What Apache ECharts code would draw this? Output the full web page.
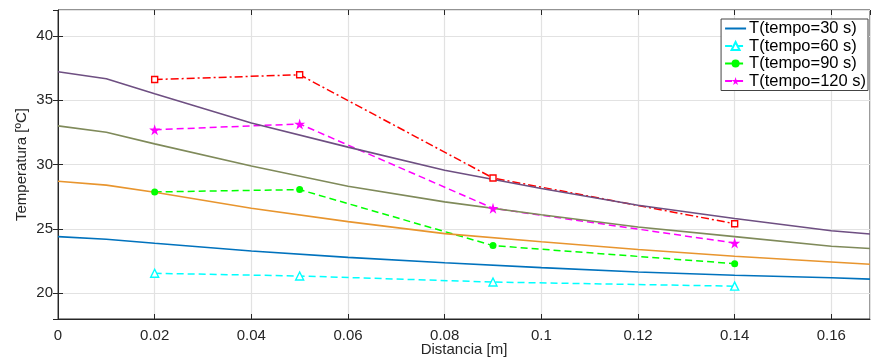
<!DOCTYPE html>
<html>
<head>
<meta charset="utf-8">
<script src="https://cdn.jsdelivr.net/npm/echarts@6/dist/echarts.min.js"></script>
<style>
  html, body { margin: 0; padding: 0; background: #fff; }
  #chart { width: 871px; height: 361px; }
</style>
</head>
<body>
<div id="chart"></div>
<script>
// distance along the bar [m] for the continuous curves
const distCurve = [0, 0.01, 0.02, 0.04, 0.06, 0.08, 0.1, 0.12, 0.14, 0.16, 0.168];
const curveBlue = [24.4, 24.2, 23.88, 23.28, 22.79, 22.37, 21.99, 21.65, 21.4, 21.2, 21.1];
const curveOrange = [28.7, 28.4, 27.85, 26.6, 25.56, 24.63, 24.0, 23.4, 22.87, 22.43, 22.25];
const curveOlive = [33.0, 32.5, 31.6, 29.89, 28.31, 27.1, 26.1, 25.15, 24.4, 23.65, 23.47];
const curvePurple = [37.2, 36.66, 35.5, 33.23, 31.35, 29.56, 28.13, 26.84, 25.8, 24.86, 24.6];

// measured points (sensors)
const distSensor = [0.02, 0.05, 0.09, 0.14];
const temp60 = [21.55, 21.34, 20.87, 20.55];
const temp90 = [27.87, 28.05, 23.7, 22.3];
const temp120 = [32.7, 33.15, 26.6, 23.9];
const tempRed = [36.6, 36.97, 28.95, 25.4];

const legendNames = ['T(tempo=30 s)', 'T(tempo=60 s)', 'T(tempo=90 s)', 'T(tempo=120 s)'];

const starPath = 'path://M50,0 L61,35 L98,35 L68,57 L79,91 L50,70 L21,91 L32,57 L2,35 L39,35 Z';
const axisColor = '#262626';
const fontFam = 'Liberation Sans, Arial, sans-serif';

const pair = (xs, ys) => xs.map((x, i) => [x, ys[i]]);

const solid = (name, color, ys) => ({
  name: name,
  type: 'line',
  symbol: 'none',
  lineStyle: { width: 1.6, color: color },
  itemStyle: { color: color },
  data: pair(distCurve, ys),
});

const dashed = (name, color, ys, symbol, size, filled, dash) => ({
  name: name,
  type: 'line',
  symbol: symbol,
  symbolSize: size,
  showSymbol: true,
  lineStyle: { width: 1.5, color: color, type: dash || [7, 4] },
  itemStyle: filled
    ? { color: color }
    : { color: '#fff', borderColor: color, borderWidth: 1.4 },
  data: pair(distSensor, ys),
});

const chart = echarts.init(document.getElementById('chart'));
const option = {
  animation: false,
  textStyle: { fontFamily: fontFam },
  grid: {
    left: 58, right: 1, top: 10, bottom: 42,
    outerBoundsMode: 'none',
    show: true, borderColor: axisColor, borderWidth: 1,
  },
  legend: {
    data: [
      { name: legendNames[0], itemStyle: { opacity: 0 } },
      legendNames[1], legendNames[2], legendNames[3],
    ],
    orient: 'vertical',
    right: 3,
    top: 19,
    backgroundColor: '#fff',
    borderColor: '#444',
    borderWidth: 1,
    padding: [1, 2, 1, 3],
    itemGap: 0.5,
    itemWidth: 21,
    itemHeight: 10,
    textStyle: { fontSize: 16.5, lineHeight: 17, color: '#000', fontFamily: fontFam, padding: [0, 0, 0, -2] },
  },
  xAxis: [
    {
      type: 'value',
      min: 0,
      max: 0.168,
      interval: 0.02,
      name: 'Distancia [m]',
      nameLocation: 'middle',
      nameGap: 23,
      nameMoveOverlap: false,
      nameTextStyle: { fontSize: 15, color: axisColor },
      axisLine: { lineStyle: { color: axisColor } },
      axisTick: { inside: true, length: 5, lineStyle: { color: axisColor } },
      axisLabel: {
        fontSize: 15, color: axisColor, margin: 9, showMaxLabel: false,
        formatter: v => String(+v.toFixed(2)),
      },
      splitLine: { show: true, lineStyle: { color: '#e2e2e2', width: 1.2 } },
    },
    {
      type: 'value',
      position: 'top',
      min: 0,
      max: 0.168,
      interval: 0.02,
      axisLine: { show: false },
      axisTick: { inside: true, length: 5, lineStyle: { color: axisColor } },
      axisLabel: { show: false },
      splitLine: { show: false },
    },
  ],
  yAxis: [
    {
      type: 'value',
      min: 18,
      max: 42,
      splitNumber: 5,
      name: 'Temperatura [ºC]',
      nameLocation: 'middle',
      nameGap: 29,
      nameMoveOverlap: false,
      nameTextStyle: { fontSize: 15, color: axisColor },
      axisLine: { show: true, lineStyle: { color: axisColor } },
      axisTick: { show: true, inside: true, length: 5, lineStyle: { color: axisColor } },
      axisLabel: {
        fontSize: 15, color: axisColor, margin: 5,
        showMinLabel: false, showMaxLabel: false,
      },
      splitLine: { show: true, lineStyle: { color: '#e2e2e2', width: 1.2 } },
    },
    {
      type: 'value',
      position: 'right',
      min: 18,
      max: 42,
      splitNumber: 5,
      axisLine: { show: false },
      axisTick: { show: true, inside: true, length: 5, lineStyle: { color: axisColor } },
      axisLabel: { show: false },
      splitLine: { show: false },
    },
  ],
  series: [
    solid('T(tempo=30 s)', '#0072BD', curveBlue),
    dashed('T(tempo=60 s)', '#00FFFF', temp60, 'triangle', 8, false),
    dashed('T(tempo=90 s)', '#00FF00', temp90, 'circle', 7, true),
    dashed('T(tempo=120 s)', '#FF00FF', temp120, starPath, 11, true),
    dashed('T(tempo=150 s)', '#FF0000', tempRed, 'rect', 6, false, [8, 3, 2, 3]),
    solid('curve 2', '#E8952E', curveOrange),
    solid('curve 3', '#7F8A5A', curveOlive),
    solid('curve 4', '#6E4F82', curvePurple),
  ],
};
chart.setOption(option);
</script>
</body>
</html>
